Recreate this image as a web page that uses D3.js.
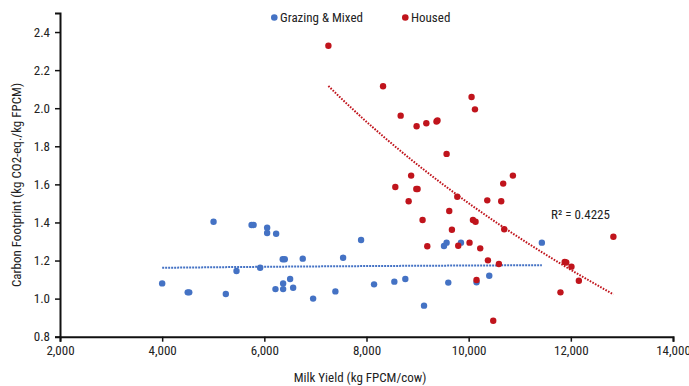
<!DOCTYPE html>
<html>
<head>
<meta charset="utf-8">
<script src="https://cdn.jsdelivr.net/npm/d3@7"></script>
<style>
  html, body { margin: 0; padding: 0; background: #fff; }
  svg { display: block; }
  text { font-family: "Liberation Sans Narrow", "Arial Narrow", "Roboto Condensed", "DejaVu Sans Condensed", sans-serif; fill: #222; }
</style>
</head>
<body>
<svg id="chart" width="689" height="386"></svg>
<script>
// Milk yield (kg FPCM/cow) and carbon footprint (kg CO2-eq./kg FPCM) per farm
const grazingYield = [4000, 4500, 4530, 5006, 5246, 5455, 5750, 5790, 5918, 6055, 6055, 6218, 6231, 6368, 6368, 6360, 6400, 6505, 6564, 6752, 6955, 7391, 7542, 7894, 8148, 8545, 8760, 9126, 9517, 9568, 9601, 9849, 10154, 10403, 11433];
const grazingCF    = [1.08, 1.033, 1.033, 1.404, 1.024, 1.145, 1.387, 1.387, 1.162, 1.372, 1.345, 1.05, 1.341, 1.08, 1.05, 1.207, 1.207, 1.103, 1.057, 1.21, 1.0, 1.038, 1.215, 1.308, 1.075, 1.089, 1.103, 0.963, 1.276, 1.294, 1.084, 1.294, 1.086, 1.12, 1.294];

const housedYield = [7254, 8324, 8564, 8669, 8825, 8874, 8975, 8981, 9000, 9098, 9171, 9190, 9370, 9390, 9568, 9620, 9672, 9777, 9796, 10017, 10057, 10084, 10123, 10135, 10154, 10226, 10364, 10377, 10481, 10592, 10637, 10676, 10696, 10866, 11797, 11880, 11910, 12012, 12157, 12833];
const housedCF    = [2.328, 2.115, 1.586, 1.961, 1.511, 1.646, 1.576, 1.905, 1.576, 1.413, 1.921, 1.275, 1.930, 1.936, 1.76, 1.46, 1.362, 1.535, 1.278, 1.294, 2.059, 1.413, 1.994, 1.404, 1.098, 1.264, 1.516, 1.201, 0.884, 1.182, 1.511, 1.604, 1.364, 1.646, 1.033, 1.192, 1.190, 1.168, 1.094, 1.325];

const xTicks = [2000, 4000, 6000, 8000, 10000, 12000, 14000];
const yTicks = [0.8, 1.0, 1.2, 1.4, 1.6, 1.8, 2.0, 2.2, 2.4];
const seriesNames = ["Grazing & Mixed", "Housed"];
const rSquaredLabel = "R\u00B2 = 0.4225";

const colors = { grazing: "#4472C4", housed: "#C0141C" };

const svg = d3.select("#chart");
const x = d3.scaleLinear().domain([2000, 14000]).range([60, 673]);
const y = d3.scaleLinear().domain([0.8, 2.5]).range([336.7, 13]);

// Logarithmic trendline: y = a + b ln(x), least squares
function logFit(xs, ys) {
  const n = xs.length;
  const lx = xs.map(Math.log);
  const mx = d3.mean(lx), my = d3.mean(ys);
  let sxy = 0, sxx = 0;
  for (let i = 0; i < n; i++) { sxy += (lx[i] - mx) * (ys[i] - my); sxx += (lx[i] - mx) ** 2; }
  const b = sxy / sxx, a = my - b * mx;
  return v => a + b * Math.log(v);
}
function trendPoints(xs, ys) {
  const f = logFit(xs, ys);
  const [lo, hi] = d3.extent(xs);
  return d3.range(0, 61).map(i => { const v = lo + (hi - lo) * i / 60; return [v, f(v)]; });
}

const line = d3.line().x(d => x(d[0])).y(d => y(d[1]));

// Axes
const xAxis = svg.append("g").attr("transform", `translate(0,${y(0.8)})`)
  .call(d3.axisBottom(x).tickValues(xTicks).tickFormat(d3.format(",")).tickSizeOuter(0).tickSize(5).tickPadding(4));
const yAxis = svg.append("g").attr("transform", `translate(${x(2000)},0)`)
  .call(d3.axisLeft(y).tickValues(yTicks).tickFormat(d3.format(".1f")).tickSizeOuter(0).tickSize(5).tickPadding(5));
[xAxis, yAxis].forEach(g => {
  g.select(".domain").attr("stroke", "#111").attr("stroke-width", 2);
  g.selectAll(".tick line").attr("stroke", "#111").attr("stroke-width", 1.5);
  g.selectAll(".tick text").attr("font-size", 13).attr("fill", "#222")
    .style("font-family", '"Liberation Sans Narrow", "Arial Narrow", "Roboto Condensed", "DejaVu Sans Condensed", sans-serif');
});

// Axis titles
svg.append("text").attr("x", 360).attr("y", 382).attr("text-anchor", "middle")
  .attr("font-size", 13).text("Milk Yield (kg FPCM/cow)");
svg.append("text").attr("transform", "translate(21,185) rotate(-90)").attr("text-anchor", "middle")
  .attr("font-size", 13).text("Carbon Footprint (kg CO2-eq./kg FPCM)");

// Trendlines
svg.append("path").datum(trendPoints(grazingYield, grazingCF)).attr("d", line)
  .attr("fill", "none").attr("stroke", colors.grazing).attr("stroke-width", 2).attr("stroke-dasharray", "2,1");
svg.append("path").datum(trendPoints(housedYield, housedCF)).attr("d", line)
  .attr("fill", "none").attr("stroke", colors.housed).attr("stroke-width", 2).attr("stroke-dasharray", "1.6,1.4");

// Points
svg.append("g").selectAll("circle").data(d3.zip(grazingYield, grazingCF)).join("circle")
  .attr("cx", d => x(d[0])).attr("cy", d => y(d[1])).attr("r", 3.2).attr("fill", colors.grazing);
svg.append("g").selectAll("circle").data(d3.zip(housedYield, housedCF)).join("circle")
  .attr("cx", d => x(d[0])).attr("cy", d => y(d[1])).attr("r", 3.2).attr("fill", colors.housed);

// R² label
svg.append("text").attr("x", 551).attr("y", 219).attr("font-size", 13).text(rSquaredLabel);

// Legend
const legend = [
  { name: seriesNames[0], color: colors.grazing, cx: 274.3, tx: 280 },
  { name: seriesNames[1], color: colors.housed, cx: 405.3, tx: 411 }
];
const lg = svg.append("g");
lg.selectAll("circle").data(legend).join("circle")
  .attr("cx", d => d.cx).attr("cy", 17.5).attr("r", 3.3).attr("fill", d => d.color);
lg.selectAll("text").data(legend).join("text")
  .attr("x", d => d.tx).attr("y", 22).attr("font-size", 13).text(d => d.name);
</script>
</body>
</html>
